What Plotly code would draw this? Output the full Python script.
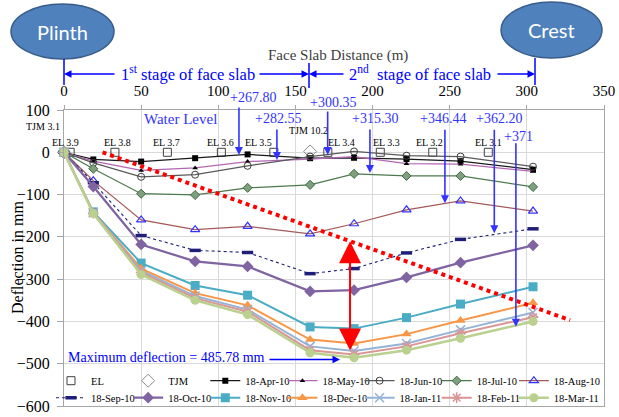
import plotly.graph_objects as go

# ---------------- data ----------------
DIST = [0, 19, 50, 85, 119, 159.5, 188, 222, 257, 304]

SERIES_NAMES = ["18-Apr-10", "18-May-10", "18-Jun-10", "18-Jul-10", "18-Aug-10",
                "18-Sep-10", "18-Oct-10", "18-Nov-10", "18-Dec-10", "18-Jan-11",
                "18-Feb-11", "18-Mar-11"]
APR = [0, -17, -22, -14, -5, -14, -13, -16, -21, -41]
MAY = [0, -21, -43, -37, -22, -16, -10, -27, -28, -45]
JUN = [0, -25, -58, -53, -32, -10, 2, -8, -10, -34]
JUL = [0, -39, -98, -101, -84, -77, -51, -56, -56, -82]
AUG = [0, -67, -160, -183, -175, -193, -169, -136, -115, -139]
SEP = [0, -72, -197, -232, -237, -287, -275, -238, -206, -181]
OCT = [0, -81, -218, -258, -270, -329, -326, -296, -261, -220]
NOV = [0, -141, -262, -315, -338, -413, -417, -391, -359, -318]
DEC = [0, -142, -275, -333, -362, -443, -452, -430, -398, -356]
JAN = [0, -143, -280, -340, -372, -459, -470, -452, -420, -379]
FEB = [0, -144, -284, -345, -377, -468, -478, -459, -428, -390]
MAR = [0, -145, -289, -350, -384, -474, -485.78, -468, -440, -400]
SERIES_VALUES = [APR, MAY, JUN, JUL, AUG, SEP, OCT, NOV, DEC, JAN, FEB, MAR]

EL_X = [4, 33, 67, 102, 136, 171, 205, 239, 275]
EL_Y = [0, 0, 0, 0, 0, 0, 0, 0, 0]
EL_LABELS = ["EL 3.9", "EL 3.8", "EL 3.7", "EL 3.6", "EL 3.5", "EL 3.4", "EL 3.3", "EL 3.2", "EL 3.1"]
TJM_X = [0, 159.5]
TJM_Y = [0, 2]
TJM_LABELS = ["TJM 3.1", "TJM 10.2"]

WL_LABELS = ["+267.80", "+282.55", "+300.35", "+315.30", "+346.44", "+362.20", "+371"]
WL_X = [113.4, 138, 170.9, 198.3, 246.9, 278.9, 292.9]
WL_HEAD_Y = [-6.4, -18.2, -6.4, -49, -120.6, -191.6, -412.5]

MAX_DEFL = 485.78
X_TICKS = [0, 50, 100, 150, 200, 250, 300, 350]
Y_TICKS = [100, 0, -100, -200, -300, -400, -500, -600]

# ---------------- styling ----------------
SERIF = "Liberation Serif, Times New Roman, serif"
W, H = 619, 417
ML, MR, MT, MB = 64, 15, 110, 11
PW, PH = W - ML - MR, H - MT - MB


def px_x(X):
    return (X - ML) / PW


def px_y(Y):
    return (H - MB - Y) / PH


def paper_text(X, Y, text, size, color, family=SERIF, **kw):
    return dict(x=px_x(X), y=px_y(Y), xref="paper", yref="paper", text=text, showarrow=False,
                xanchor="center", yanchor="middle", font=dict(family=family, size=size, color=color), **kw)


STYLES = [
    dict(line=dict(color="#1a1a1a", width=1.25), marker=dict(symbol="square", size=6, color="#000000")),
    dict(line=dict(color="#b366b3", width=1.25), marker=dict(symbol="triangle-up", size=5, color="#000000")),
    dict(line=dict(color="#595959", width=1.25), marker=dict(symbol="circle-open", size=7, color="#404040", line=dict(width=1))),
    dict(line=dict(color="#4d7a4d", width=1.25), marker=dict(symbol="diamond", size=7, color="#7fa07f", line=dict(color="#3d6b3d", width=1))),
    dict(line=dict(color="#a35a58", width=1.25), marker=dict(symbol="triangle-up-open", size=8, color="#3333ff", line=dict(width=1.2))),
    dict(line=dict(color="#1f1f7a", width=1.1, dash="dot"), marker=dict(symbol="line-ew-open", size=8, color="#1f1f7a", line=dict(width=3.5))),
    dict(line=dict(color="#8064a2", width=2.25), marker=dict(symbol="diamond", size=9, color="#8064a2")),
    dict(line=dict(color="#4bacc6", width=2), marker=dict(symbol="square", size=9, color="#4bacc6")),
    dict(line=dict(color="#f79646", width=2), marker=dict(symbol="triangle-up", size=9, color="#f79646")),
    dict(line=dict(color="#95b3d7", width=2), marker=dict(symbol="x-thin-open", size=9, color="#95b3d7", line=dict(width=1.5))),
    dict(line=dict(color="#d99694", width=2), marker=dict(symbol="asterisk-open", size=9, color="#d99694", line=dict(width=1.5))),
    dict(line=dict(color="#b9d08e", width=2.5), marker=dict(symbol="circle", size=9, color="#b9d08e")),
]

LEG_IDS = ["legend" if i == 0 else "legend%d" % (i + 1) for i in range(14)]

fig = go.Figure()

fig.add_trace(go.Scatter(x=EL_X, y=EL_Y, name="EL", mode="markers", cliponaxis=False, showlegend=True,
                         marker=dict(symbol="square-open", size=8, color="#404040", line=dict(width=1)),
                         legend=LEG_IDS[0]))
fig.add_trace(go.Scatter(x=TJM_X, y=TJM_Y, name="TJM", mode="markers", cliponaxis=False,
                         marker=dict(symbol="diamond-open", size=10, color="#8c8c8c", line=dict(width=1)),
                         legend=LEG_IDS[1]))
for i, (nm, vals) in enumerate(zip(SERIES_NAMES, SERIES_VALUES)):
    fig.add_trace(go.Scatter(x=DIST, y=vals, name=nm, mode="lines+markers", cliponaxis=False,
                             legend=LEG_IDS[i + 2], **STYLES[i]))

ann = []
# EL labels
EL_DX = [-4.5, 3, -0.7, -0.5, -15, 14, 6.7, -3.6, 0]
for x, y, t, dx in zip(EL_X, EL_Y, EL_LABELS, EL_DX):
    ann.append(dict(x=x, y=y, xref="x", yref="y", text=t, showarrow=False, xshift=dx, yshift=10,
                    xanchor="center", yanchor="middle",
                    font=dict(family=SERIF, size=10, color="#000000")))
TJM_SHIFT = [(-21, 26), (-2, 21)]
for x, y, t, (dx, dy) in zip(TJM_X, TJM_Y, TJM_LABELS, TJM_SHIFT):
    ann.append(dict(x=x, y=y, xref="x", yref="y", text=t, showarrow=False, xshift=dx, yshift=dy,
                    xanchor="center", yanchor="middle",
                    font=dict(family=SERIF, size=10, color="#000000")))

# water level arrows + labels
WL_TAIL = [-49, -32, -45, -45, -75, -105, -185]
WL_LAB_PX = [(253, 97), (277.5, 119), (333, 102.7), (375, 119), (443, 119), (499, 119), (518, 136)]
BLUE = "#3333ff"
for x, y, t, tl, (lx, ly) in zip(WL_X, WL_HEAD_Y, WL_LABELS, WL_TAIL, WL_LAB_PX):
    ann.append(dict(x=x, y=y, xref="x", yref="y", text="", showarrow=True, ax=0, ay=tl,
                    arrowhead=2, arrowsize=1, arrowwidth=1.6, arrowcolor=BLUE, standoff=0))
    ann.append(paper_text(lx, ly, t, 14, BLUE))
ann.append(paper_text(180, 119, "Water Level", 15, BLUE))

# max deflection
ann.append(paper_text(166.5, 357, "Maximum deflection = %.2f mm" % MAX_DEFL, 14, "#0000ff"))
ann.append(dict(x=178.9, y=-490, xref="x", yref="y", text="", showarrow=True, ax=-72, ay=0,
                arrowhead=2, arrowsize=1, arrowwidth=1.5, arrowcolor="#0000ff", standoff=0))

# red double arrow
ann.append(dict(x=185.4, y=-469, xref="x", yref="y", ax=185.4, ay=-207, axref="x", ayref="y",
                text="", showarrow=True, arrowside="end+start", arrowhead=2, arrowsize=2.2,
                arrowwidth=2, arrowcolor="#ff0000", standoff=0, startstandoff=0))

# stage arrows / text
SY = px_y(74)
for hx, tx in [(64, 116), (309, 258), (309, 345), (535, 496)]:
    ann.append(dict(x=px_x(hx), y=SY, xref="paper", yref="paper", text="", showarrow=True,
                    ax=tx - hx, ay=0, arrowhead=2, arrowsize=1, arrowwidth=1.5, arrowcolor="#0000ff",
                    standoff=0))
ann.append(paper_text(187.5, 73, "1<sup>st</sup> stage of face slab", 16.5, "#0000ff"))
ann.append(paper_text(420, 73, "2<sup>nd</sup>  stage of face slab", 16.5, "#0000ff"))
ann.append(paper_text(337.5, 55, "Face Slab Distance (m)", 15, "#404040"))
ann.append(paper_text(17, 258, "Deflection in mm", 16, "#000000", textangle=-90))
# ellipse labels
ann.append(paper_text(62.5, 31.5, "Plinth", 20, "#ffffff", family="Lato, Open Sans, sans-serif"))
ann.append(paper_text(551.5, 30, "Crest", 20, "#ffffff", family="Lato, Open Sans, sans-serif"))

shapes = [
    dict(type="circle", xref="paper", yref="paper", x0=px_x(11), x1=px_x(114), y0=px_y(59), y1=px_y(4),
         fillcolor="#4f81bd", line=dict(color="#385d8a", width=1.5), layer="below"),
    dict(type="circle", xref="paper", yref="paper", x0=px_x(501), x1=px_x(602), y0=px_y(58), y1=px_y(2),
         fillcolor="#4f81bd", line=dict(color="#385d8a", width=1.5), layer="below"),
    dict(type="line", xref="paper", yref="paper", x0=px_x(64), x1=px_x(64), y0=px_y(85), y1=px_y(59),
         line=dict(color="#0000ff", width=1.5)),
    dict(type="line", xref="paper", yref="paper", x0=px_x(309), x1=px_x(309), y0=px_y(88), y1=px_y(63),
         line=dict(color="#0000ff", width=1.5)),
    dict(type="line", xref="paper", yref="paper", x0=px_x(535), x1=px_x(535), y0=px_y(85), y1=px_y(58),
         line=dict(color="#0000ff", width=1.5)),
    dict(type="line", xref="x", yref="y", x0=25, y0=0, x1=328, y1=-397,
         line=dict(color="#ff0000", width=4, dash="dot"), layer="above"),
]

legends = {}
ROW_Y = [380.7, 397.7]
COL_W = PW / 7.0
for k, lid in enumerate(LEG_IDS):
    r, c = divmod(k, 7)
    legends[lid] = dict(orientation="v", xanchor="left", yanchor="middle", bgcolor="rgba(0,0,0,0)",
                        x=px_x(ML + c * COL_W - 13), y=px_y(ROW_Y[r]), itemwidth=30,
                        font=dict(family=SERIF, size=10.5, color="#000000"))

fig.update_layout(
    width=W, height=H,
    showlegend=True,
    margin=dict(l=ML, r=MR, t=MT, b=MB, pad=0, autoexpand=False),
    paper_bgcolor="#ffffff", plot_bgcolor="#ffffff",
    font=dict(family=SERIF, size=15, color="#000000"),
    xaxis=dict(side="top", range=[0, 350], tickvals=X_TICKS, showgrid=True, gridcolor="#d9d9d9",
               gridwidth=1, zeroline=False, showline=True, linecolor="#a6a6a6", linewidth=1, mirror=True,
               ticks="outside", ticklen=4, tickcolor="#a6a6a6", tickfont=dict(family=SERIF, size=15),
               ticklabelstandoff=3, automargin=False),
    yaxis=dict(range=[-600, 100], tickvals=Y_TICKS, showgrid=True, gridcolor="#d9d9d9", gridwidth=1,
               zeroline=False, showline=True, linecolor="#a6a6a6", linewidth=1, mirror=True,
               ticks="outside", ticklen=6, tickcolor="#a6a6a6", ticklabelstandoff=4,
               tickfont=dict(family=SERIF, size=16), automargin=False),
    annotations=ann,
    shapes=shapes,
    **legends,
)

fig.write_html("out.html", config={"displayModeBar": False},
               post_script="document.body.style.margin='0';")
